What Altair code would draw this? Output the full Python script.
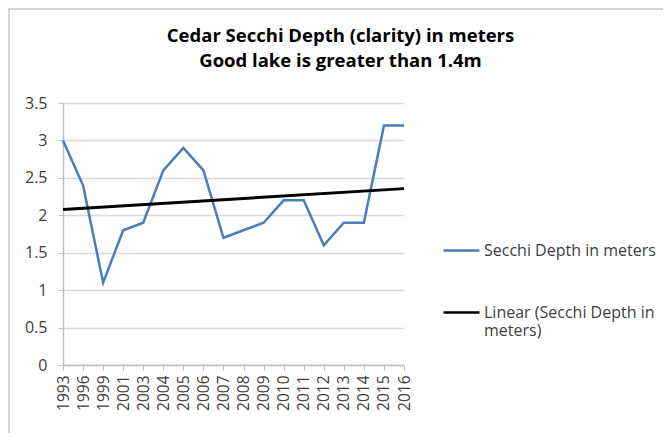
import json
import altair as alt
import pandas as pd

years = ["1993", "1996", "1999", "2001", "2003", "2004", "2005", "2006", "2007",
         "2008", "2009", "2010", "2011", "2012", "2013", "2014", "2015", "2016"]
depth = [3.0, 2.4, 1.1, 1.8, 1.9, 2.6, 2.9, 2.6, 1.7, 1.8, 1.9, 2.2, 2.2, 1.6, 1.9, 1.9, 3.2, 3.2]
series_names = ["Secchi Depth in meters", "Linear (Secchi Depth in meters)"]
series_colors = ["#4a7ebb", "#000000"]
y_ticks = [0, 0.5, 1, 1.5, 2, 2.5, 3, 3.5]
title_lines = ["Cedar Secchi Depth (clarity) in meters", "Good lake is greater than 1.4m"]

df = pd.DataFrame({"year": years, "idx": list(range(len(years))), "depth": depth,
                   "series": series_names[0]})

FONT = "Open Sans"

xenc = alt.X("year:O", sort=years, title=None,
             scale=alt.Scale(type="point", padding=0),
             axis=alt.Axis(labelAngle=-90, labelFontSize=15.5, labelColor="#404040",
                           labelFont=FONT, domainColor="#bfbfbf", tickColor="#bfbfbf",
                           tickSize=5, labelPadding=5, grid=False, domainWidth=1.5))
yenc = alt.Y("depth:Q", title=None,
             scale=alt.Scale(domain=[0, 3.5], nice=False),
             axis=alt.Axis(values=y_ticks, format="~g", labelFontSize=16, labelColor="#404040",
                           labelFont=FONT, domainColor="#bfbfbf", tickColor="#bfbfbf",
                           tickSize=5, labelPadding=11, grid=True, gridColor="#d9d9d9",
                           gridWidth=1.5, domainWidth=1.5))

label_expr = ("datum.label == 'Linear (Secchi Depth in meters)' ? "
              "['Linear (Secchi Depth in', 'meters)'] : datum.label")
color = alt.Color("series:N", title=None,
                  scale=alt.Scale(domain=series_names, range=series_colors),
                  legend=alt.Legend(orient="none", legendX=379, legendY=128,
                                    symbolType="stroke", symbolSize=1296,
                                    symbolStrokeWidth=2.5, labelFontSize=16,
                                    labelFont=FONT, labelColor="#404040",
                                    labelLimit=300, labelOffset=3, rowPadding=34,
                                    padding=0, labelExpr=label_expr))

border = alt.Chart(pd.DataFrame({"a": [0]})).mark_rect(
    fill="transparent", stroke="#c8c8c8", strokeWidth=1.5
).encode(x=alt.value(-54), x2=alt.value(800), y=alt.value(-94), y2=alt.value(600))

line = alt.Chart(df).mark_line(strokeWidth=2.5).encode(x=xenc, y=yenc, color=color)

trend = alt.Chart(df).transform_regression("idx", "depth").transform_calculate(
    year=f"{json.dumps(years)}[datum.idx]",
    series=f"'{series_names[1]}'"
).mark_line(strokeWidth=3).encode(x=xenc, y=yenc, color=color)

chart = alt.layer(border, line, trend).properties(
    width=341, height=262,
    padding={"left": 55, "top": 95, "right": 259, "bottom": 68},
    autosize=alt.AutoSizeParams(type="none"),
    title=alt.TitleParams(text=title_lines, font=FONT, fontSize=18.5, fontWeight="bold",
                          color="#000000", anchor="middle", frame="group", dx=107,
                          lineHeight=25, offset=-62),
).configure_view(stroke=None)

chart.save("out.html", embed_options={"renderer": "svg", "actions": False})
